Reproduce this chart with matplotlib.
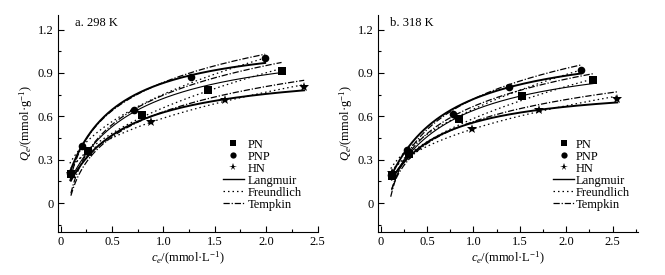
import numpy as np
import matplotlib
matplotlib.use("Agg")
import matplotlib.pyplot as plt
from matplotlib.ticker import FixedLocator
from matplotlib.lines import Line2D

plt.rcParams['font.family'] = ['Liberation Serif', 'DejaVu Serif']
plt.rcParams['mathtext.fontset'] = 'custom'
plt.rcParams['mathtext.rm'] = 'Liberation Serif'
plt.rcParams['mathtext.it'] = 'Liberation Serif:italic'

series = ['PN', 'PNP', 'HN']
markers = ['s', 'o', '*']
panel_titles = ['a. 298 K', 'b. 318 K']

# Panel a (298 K) experimental data
ce_a = {'PN': [0.10, 0.27, 0.79, 1.43, 2.15],
        'PNP': [0.09, 0.21, 0.71, 1.27, 1.99],
        'HN': [0.10, 0.28, 0.88, 1.60, 2.37]}
qe_a = {'PN': [0.205, 0.358, 0.612, 0.785, 0.912],
        'PNP': [0.208, 0.393, 0.647, 0.871, 1.005],
        'HN': [0.20, 0.345, 0.559, 0.711, 0.80]}
# Panel b (318 K) experimental data
ce_b = {'PN': [0.12, 0.31, 0.84, 1.52, 2.29],
        'PNP': [0.11, 0.28, 0.78, 1.38, 2.16],
        'HN': [0.12, 0.30, 0.98, 1.71, 2.55]}
qe_b = {'PN': [0.19, 0.342, 0.584, 0.739, 0.85],
        'PNP': [0.196, 0.365, 0.617, 0.804, 0.919],
        'HN': [0.21, 0.335, 0.513, 0.647, 0.723]}

# Fitted isotherm parameters
# Langmuir: qm, KL ; Freundlich: KF, 1/n ; Tempkin: A, B
lang_a = {'PN': (1.15, 1.7), 'PNP': (1.165, 2.49), 'HN': (0.948, 1.96)}
freu_a = {'PN': (0.66, 0.45), 'PNP': (0.753, 0.418), 'HN': (0.588, 0.385)}
temp_a = {'PN': (0.747, 0.295), 'PNP': (0.835, 0.283), 'HN': (0.632, 0.252)}
lang_b = {'PN': (1.066, 1.51), 'PNP': (1.138, 1.72), 'HN': (0.83, 2.045)}
freu_b = {'PN': (0.585, 0.464), 'PNP': (0.65, 0.453), 'HN': (0.514, 0.39)}
temp_b = {'PN': (0.669, 0.273), 'PNP': (0.72, 0.306), 'HN': (0.564, 0.22)}

lw_solid = {'PN': 0.8, 'PNP': 1.4, 'HN': 1.4}
DOT = (0, (1.2, 2.4))
DASHDOT = (0, (5, 1.5, 1, 1.5))

fig = plt.figure(figsize=(6.65, 2.75), dpi=100)
ax1 = fig.add_axes([0.0865, 0.156, 0.391, 0.789])
ax2 = fig.add_axes([0.568, 0.156, 0.391, 0.789])

panels = [(ax1, ce_a, qe_a, lang_a, freu_a, temp_a, (-0.03, 2.5)),
          (ax2, ce_b, qe_b, lang_b, freu_b, temp_b, (-0.03, 2.77))]
title_x = [0.067, 0.046]
leg_x = [0.635, 0.675]
leg_pad = [0.3, 0.1]

for i, (ax, ce, qe, lang, freu, temp, xl) in enumerate(panels):
    for s, m in zip(series, markers):
        c = np.linspace(ce[s][0], ce[s][-1], 200)
        qm, K = lang[s]
        ax.plot(c, qm * K * c / (1 + K * c), '-', color='black', lw=lw_solid[s])
        KF, n1 = freu[s]
        ax.plot(c, KF * c ** n1, linestyle=DOT, color='black', lw=0.9)
        A, B = temp[s]
        ax.plot(c, A + B * np.log(c), linestyle=DASHDOT, color='black', lw=0.9)
        ax.plot(ce[s], qe[s], m, color='black', ms=5.5 if m != '*' else 7, mew=0, zorder=5)
    ax.set_xlim(*xl)
    ax.set_ylim(-0.2, 1.3)
    ax.spines['top'].set_visible(False)
    ax.spines['right'].set_visible(False)
    ax.xaxis.set_major_locator(FixedLocator([0, 0.5, 1.0, 1.5, 2.0, 2.5]))
    ax.xaxis.set_minor_locator(FixedLocator([0.25, 0.75, 1.25, 1.75, 2.25, 2.75]))
    ax.yaxis.set_major_locator(FixedLocator([0, 0.3, 0.6, 0.9, 1.2]))
    ax.yaxis.set_minor_locator(FixedLocator([-0.15, 0.15, 0.45, 0.75, 1.05]))
    ax.set_xticklabels(['0', '0.5', '1.0', '1.5', '2.0', '2.5'])
    ax.set_yticklabels(['0', '0.3', '0.6', '0.9', '1.2'])
    ax.tick_params(which='major', direction='in', length=4, width=0.8, labelsize=9, pad=3)
    ax.tick_params(which='minor', direction='in', length=2.5, width=0.8)
    ax.set_xlabel(r'$c_e$/(mmol·L$^{-1}$)', fontsize=9, labelpad=1)
    ax.set_ylabel(r'$Q_e$/(mmol·g$^{-1}$)', fontsize=9, labelpad=2)
    ax.text(title_x[i], 0.99, panel_titles[i], transform=ax.transAxes,
            fontsize=9, va='top', ha='left')
    handles = [Line2D([], [], marker='s', ls='', color='black', ms=4.5, mew=0),
               Line2D([], [], marker='o', ls='', color='black', ms=4.5, mew=0),
               Line2D([], [], marker='*', ls='', color='black', ms=5.5, mew=0),
               Line2D([], [], ls='-', color='black', lw=1.0),
               Line2D([], [], ls=DOT, color='black', lw=0.9),
               Line2D([], [], ls=DASHDOT, color='black', lw=0.9)]
    labels = ['PN', 'PNP', 'HN', 'Langmuir', 'Freundlich', 'Tempkin']
    ax.legend(handles, labels, loc='upper left', bbox_to_anchor=(leg_x[i], 0.43),
              frameon=False, fontsize=9, handlelength=1.7, handletextpad=leg_pad[i],
              labelspacing=0.0, borderpad=0.0, borderaxespad=0.0)

fig.savefig('out.png', dpi=100)
